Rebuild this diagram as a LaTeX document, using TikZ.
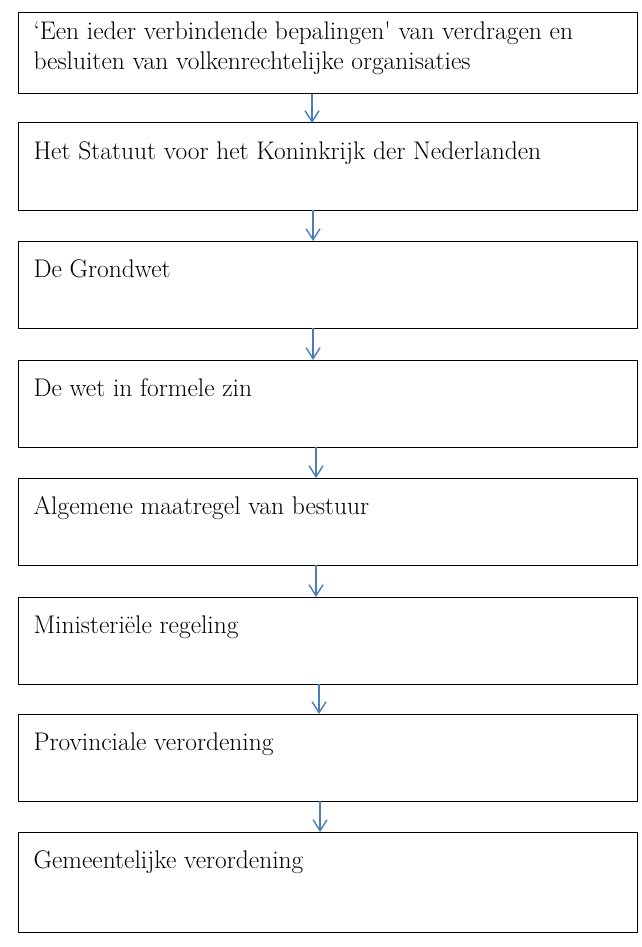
\documentclass[tikz,border=0pt]{standalone}
\usetikzlibrary{arrows.meta}
\definecolor{arrowblue}{HTML}{4A7EBB}
\begin{document}
\begin{tikzpicture}[x=1pt,y=-1pt,
  box/.style={draw=black, line width=1pt, minimum width=619.5pt, minimum height=87pt, anchor=north west, inner sep=0pt, outer sep=0pt},
  lbl/.style={anchor=base west, inner sep=0pt, font=\fontsize{25.5}{33}\selectfont, xshift=15pt, yshift=-36pt},
  conn/.style={draw=arrowblue, line width=1.4pt, -{Straight Barb[length=11pt,width=14pt,line width=1.4pt]}}
]
\useasboundingbox (0,0) rectangle (642,947);
\fill[white] (0,0) rectangle (642,947);
\node[box, minimum height=81pt] (b1) at (18.3,13) {};
\node[box] (b2) at (18.3,123) {};
\node[box] (b3) at (18.3,241) {};
\node[box] (b4) at (18.3,360) {};
\node[box] (b5) at (18.3,478) {};
\node[box] (b6) at (18.3,597) {};
\node[box] (b7) at (18.3,714) {};
\node[box, minimum height=100pt] (b8) at (18.3,832) {};
\node[lbl, yshift=9pt] (t1a) at (b1.north west) {‘Een ieder verbindende bepalingen\textquotesingle{} van verdragen en};
\node[lbl, yshift=-21pt] (t1b) at (b1.north west) {besluiten van volkenrechtelijke organisaties};
\node[lbl] (t2) at (b2.north west) {Het Statuut voor het Koninkrijk der Nederlanden};
\node[lbl] (t3) at (b3.north west) {De Grondwet};
\node[lbl] (t4) at (b4.north west) {De wet in formele zin};
\node[lbl] (t5) at (b5.north west) {Algemene maatregel van bestuur};
\node[lbl] (t6) at (b6.north west) {Ministeriële regeling};
\node[lbl] (t7) at (b7.north west) {Provinciale verordening};
\node[lbl] (t8) at (b8.north west) {Gemeentelijke verordening};
\draw[conn] ([xshift=-16pt]b1.south) -- ([xshift=-16pt]b2.north);
\draw[conn] ([xshift=-15pt]b2.south) -- ([xshift=-15pt]b3.north);
\draw[conn] ([xshift=-15pt]b3.south) -- ([xshift=-15pt]b4.north);
\draw[conn] ([xshift=-12pt]b4.south) -- ([xshift=-12pt]b5.north);
\draw[conn] ([xshift=-12pt]b5.south) -- ([xshift=-12pt]b6.north);
\draw[conn] ([xshift=-9pt]b6.south) -- ([xshift=-9pt]b7.north);
\draw[conn] ([xshift=-8pt]b7.south) -- ([xshift=-8pt]b8.north);
\end{tikzpicture}
\end{document}
